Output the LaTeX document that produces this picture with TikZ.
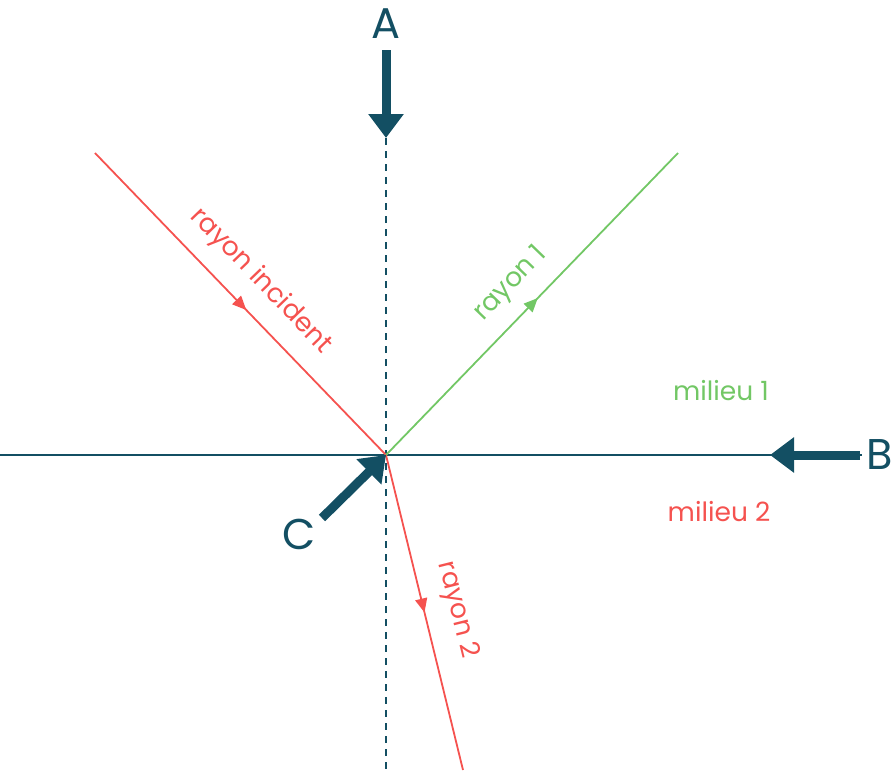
\documentclass[tikz,border=0pt]{standalone}
\usepackage{fontspec}
\setmainfont{Poppins}
\usetikzlibrary{arrows.meta,decorations.markings}
\definecolor{teal}{HTML}{134F63}
\definecolor{rred}{HTML}{F5524F}
\definecolor{rgreen}{HTML}{72C765}
\begin{document}
\begin{tikzpicture}[x=1pt,y=-1pt,
  ray/.style={line width=1.8pt},
  midarrow/.style={postaction={decorate},decoration={markings,mark=at position #1 with {\arrow{Triangle[length=14pt,width=12pt]}}}},
  bigarrow/.style={draw=teal,line width=9pt,-{Triangle[length=24pt,width=34pt]}},
  lbl/.style={font=\fontsize{26.5}{30}\selectfont,inner sep=0pt},
  biglbl/.style={font=\fontsize{43}{46}\selectfont,text=teal,inner sep=0pt}]
\useasboundingbox (0,0) rectangle (896,772);
\coordinate (O) at (386,455);
\coordinate (L) at (0,455);
\coordinate (R) at (862,455);
\coordinate (T) at (386,138);
\coordinate (Bt) at (386,772);
\coordinate (I) at (95,153);
\coordinate (G) at (678,153);
\coordinate (D) at (463,770);
% lines
\draw[teal,line width=1.8pt] (L) -- (R);
\draw[teal,line width=1.8pt,dash pattern=on 7pt off 6pt] (T) -- (Bt);
\draw[ray,rred,midarrow=0.52] (I) -- (O);
\draw[ray,rgreen,midarrow=0.52] (O) -- (G);
\draw[ray,rred,midarrow=0.5] (O) -- (D);
% labels
\node[lbl,text=rred,rotate=-46] (li) at (261,281) {rayon incident};
\node[lbl,text=rgreen,rotate=46] (l1) at (511,284) {rayon 1};
\node[lbl,text=rred,rotate=-76] (l2) at (457,610) {rayon 2};
\node[lbl,text=rgreen] (m1) at (721,391) {milieu 1};
\node[lbl,text=rred] (m2) at (719,512) {milieu 2};
% big arrows
\node[biglbl] (A) at (386,24) {A};
\node[biglbl] (B) at (880,455) {B};
\node[biglbl] (C) at (299,534) {C};
\coordinate (As) at (386,50);
\coordinate (Bs) at (860,455);
\coordinate (Cs) at (322,518);
\draw[bigarrow] (As) -- (T);
\draw[bigarrow] (Bs) -- (770,455);
\draw[bigarrow] (Cs) -- (O);
\end{tikzpicture}
\end{document}
